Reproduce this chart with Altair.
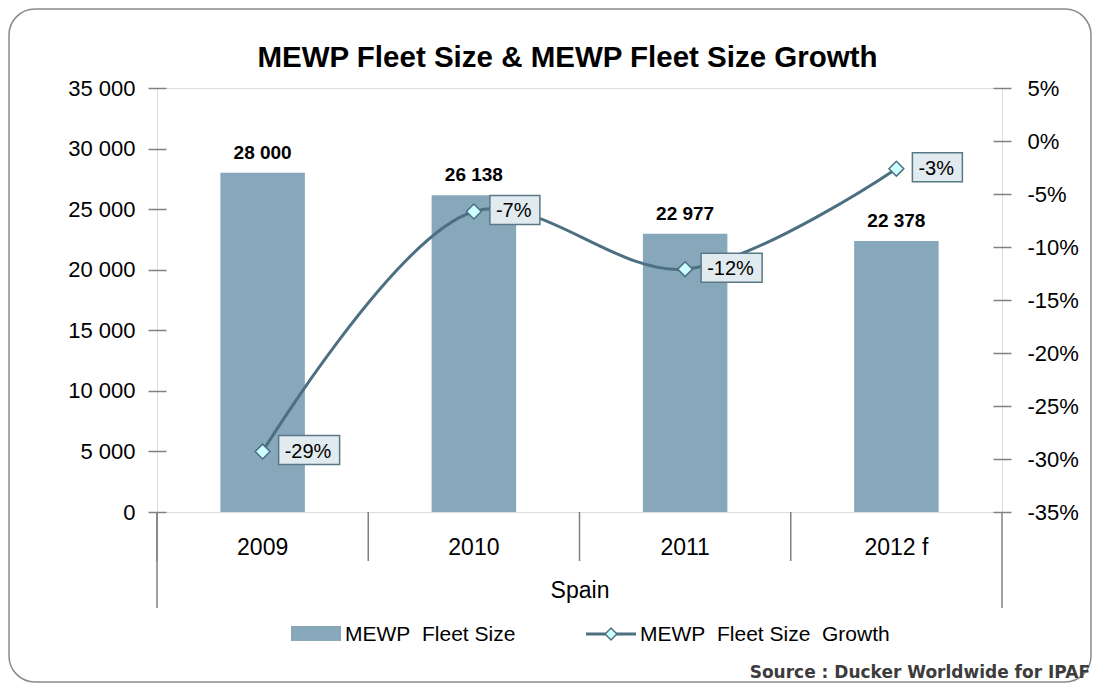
import altair as alt
import pandas as pd

categories = ["2009", "2010", "2011", "2012 f"]
fleet_size = [28000, 26138, 22977, 22378]
fleet_growth = [-0.293, -0.0665, -0.1209, -0.0261]
left_ticks = [0, 5000, 10000, 15000, 20000, 25000, 30000, 35000]
right_ticks = [-0.35, -0.30, -0.25, -0.20, -0.15, -0.10, -0.05, 0.0, 0.05]
title_text = "MEWP Fleet Size & MEWP Fleet Size Growth"

df = pd.DataFrame({"cat": categories, "fleet": fleet_size, "growth": fleet_growth})
one = pd.DataFrame({"a": [0]})

FONT = "Liberation Sans"
BAR = "#87a8bb"
LINE = "#4d6f82"
GRAY = "#808080"
W, H = 845, 424

xaxis = alt.Axis(title="Spain", labelFontSize=23, labelFont=FONT, labelColor="black",
                 labelAngle=0, ticks=False, domain=False, labelPadding=24,
                 titleFont=FONT, titleFontSize=23, titleFontWeight="normal",
                 titleColor="black", titlePadding=20)
xscale = alt.Scale(paddingInner=0, paddingOuter=0, domain=categories)


def X(**kw):
    return alt.X("cat:N", sort=categories, scale=xscale, axis=xaxis, **kw)


yscale_l = alt.Scale(domain=[0, 35000], nice=False)
yscale_r = alt.Scale(domain=[-0.35, 0.05], nice=False)

border = alt.Chart(one).mark_rect(cornerRadius=26, fill="white", fillOpacity=0,
                                  stroke="#8a8a8a", strokeWidth=1.5).encode(
    x=alt.value(-148), x2=alt.value(W + 89), y=alt.value(-79), y2=alt.value(594))

title = alt.Chart(one).mark_text(font=FONT, fontSize=29.5, fontWeight="bold", color="black",
                                 align="center", baseline="alphabetic",
                                 text=title_text).encode(
    x=alt.value(W / 2 - 12), y=alt.value(-21))

bars = alt.Chart(df).mark_bar(width=alt.RelativeBandSize(0.4), color=BAR).encode(
    x=X(),
    y=alt.Y("fleet:Q", scale=yscale_l,
            axis=alt.Axis(values=left_ticks, orient="left", title=None,
                          labelExpr="replace(format(datum.value, ','), ',', ' ')",
                          labelFontSize=22, labelFont=FONT, labelColor="black",
                          tickSize=18, offset=-9, domain=False, grid=False,
                          tickColor=GRAY, tickWidth=1.5, labelPadding=13)))

bar_labels = alt.Chart(df).mark_text(font=FONT, fontSize=19, fontWeight="bold",
                                     baseline="alphabetic", dy=-14, color="black").encode(
    x=X(),
    y=alt.Y("fleet:Q", scale=yscale_l, axis=None),
    text=alt.Text("lbl:N")).transform_calculate(
    lbl="replace(format(datum.fleet, ','), ',', ' ')")

line = alt.Chart(df).mark_line(interpolate="catmull-rom", color=LINE, strokeWidth=3).encode(
    x=X(),
    y=alt.Y("growth:Q", scale=yscale_r,
            axis=alt.Axis(values=right_ticks, orient="right", title=None,
                          labelExpr="round(datum.value * 100) + '%'",
                          labelFontSize=22, labelFont=FONT, labelColor="black",
                          tickSize=18, offset=-9, domain=False, grid=False,
                          tickColor=GRAY, tickWidth=1.5, labelPadding=16)))

points = alt.Chart(df).mark_point(shape="diamond", size=220, filled=True, fill="#ccffff",
                                  stroke=LINE, strokeWidth=1.5, opacity=1).encode(
    x=X(),
    y=alt.Y("growth:Q", scale=yscale_r, axis=None))

boxes = alt.Chart(df).transform_calculate(
    lbl="round(datum.growth * 100) + '%'"
).transform_calculate(
    box="length(datum.lbl) > 3 ? 'M16,-16L77,-16L77,13L16,13Z' : 'M16,-16L66,-16L66,13L16,13Z'"
).mark_point(size=4, filled=True, fill="#e0eaef", stroke="#587888", strokeWidth=1.5,
             opacity=1).encode(
    x=X(),
    y=alt.Y("growth:Q", scale=yscale_r, axis=None),
    shape=alt.Shape("box:N", scale=None))

box_text = alt.Chart(df).transform_calculate(
    lbl="round(datum.growth * 100) + '%'"
).mark_text(font=FONT, fontSize=20, align="left", baseline="middle", dx=22, dy=0,
            color="black").encode(
    x=X(),
    y=alt.Y("growth:Q", scale=yscale_r, axis=None),
    text="lbl:N")

dividers = alt.Chart(df).mark_rule(color=GRAY, strokeWidth=1.5).encode(
    x=X(bandPosition=0), y=alt.value(H), y2=alt.value(H + 49))

edge_l = alt.Chart(one).mark_rule(color=GRAY, strokeWidth=1.5).encode(
    x=alt.value(0), y=alt.value(H), y2=alt.value(H + 96))
edge_r = alt.Chart(one).mark_rule(color=GRAY, strokeWidth=1.5).encode(
    x=alt.value(W), y=alt.value(H), y2=alt.value(H + 96))

# legend
leg_bar = alt.Chart(one).mark_rect(color=BAR).encode(
    x=alt.value(134), x2=alt.value(184), y=alt.value(538), y2=alt.value(553))
leg_bar_t = alt.Chart(one).mark_text(font=FONT, fontSize=21, align="left", baseline="middle",
                                     color="black", text="MEWP\u00a0 Fleet Size").encode(
    x=alt.value(188), y=alt.value(547))
leg_line = alt.Chart(one).mark_rule(color=LINE, strokeWidth=3).encode(
    x=alt.value(429), x2=alt.value(479), y=alt.value(546))
leg_pt = alt.Chart(one).mark_point(shape="diamond", size=140, filled=True, fill="#ccffff",
                                   stroke=LINE, strokeWidth=1.5, opacity=1).encode(
    x=alt.value(454), y=alt.value(546))
leg_line_t = alt.Chart(one).mark_text(font=FONT, fontSize=21, align="left", baseline="middle",
                                      color="black",
                                      text="MEWP\u00a0 Fleet Size\u00a0 Growth").encode(
    x=alt.value(483), y=alt.value(547))

source = alt.Chart(one).mark_text(font="DejaVu Sans", fontSize=17, fontWeight="bold",
                                  align="right", baseline="middle", color="#3c3c3c",
                                  text="Source : Ducker Worldwide for IPAF").encode(
    x=alt.value(W + 88), y=alt.value(585))

chart = alt.layer(
    border, title, bars, bar_labels, dividers, edge_l, edge_r, line, points, boxes, box_text,
    leg_bar, leg_bar_t, leg_line, leg_pt, leg_line_t, source
).resolve_scale(y="independent").properties(
    width=W, height=H,
    autosize=alt.AutoSizeParams(type="none"),
    padding={"left": 149, "top": 80, "right": 91, "bottom": 171},
).configure_view(stroke=GRAY, strokeWidth=1.5).configure(background="white")

chart.save("out.html", embed_options={"renderer": "svg", "actions": False})
